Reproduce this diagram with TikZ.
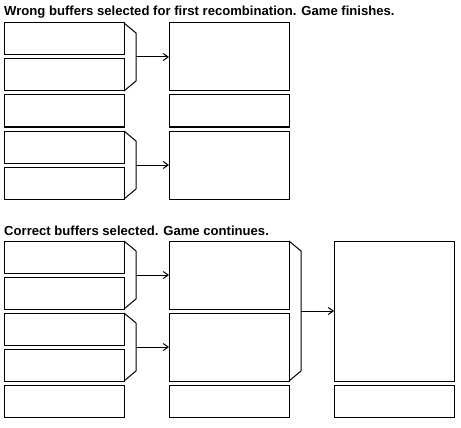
\documentclass[tikz,border=0pt]{standalone}
\usepackage{fontspec}
\setmainfont{Liberation Sans}
\usetikzlibrary{arrows.meta,calc}
\begin{document}
\begin{tikzpicture}[x=1pt,y=-1pt,
  buf/.style={draw=black,line width=1pt,minimum width=120pt,minimum height=32pt,anchor=north west,inner sep=0pt,outer sep=0pt},
  bigbuf/.style={buf,minimum height=68pt},
  tallbuf/.style={buf,minimum height=140pt},
  brk/.style={draw=black,line width=1pt},
  arr/.style={draw=black,line width=1pt,-{Straight Barb[length=5pt,width=7pt]}},
  title/.style={anchor=base west,inner sep=0pt,font=\bfseries\fontsize{13.1}{15}\selectfont}]
\useasboundingbox (0,0) rectangle (461,428);
\node[title] (t1) at (4,15.5) {Wrong buffers selected for first recombination. Game finishes.};
\node[title] (t2) at (4,235.5) {Correct buffers selected. Game continues.};
% top section
\node[buf] (a1) at (4,23) {};
\node[buf] (a2) at (4,59) {};
\node[buf] (a3) at (4,95) {};
\node[buf] (a4) at (4,131) {};
\node[buf] (a5) at (4,167) {};
\node[bigbuf] (r1) at (169,23) {};
\node[buf] (r2) at (169,95) {};
\node[bigbuf] (r3) at (169,131) {};
\draw[brk] (a1.north east) -- ++(12,10) coordinate (k1a) -- ($(a2.south east)+(12,-10)$) coordinate (k1b) -- (a2.south east);
\coordinate (m1) at ($(k1a)!0.5!(k1b)$);
\draw[arr] (m1) -- (r1.west);
\draw[brk] (a4.north east) -- ++(12,10) coordinate (k2a) -- ($(a5.south east)+(12,-10)$) coordinate (k2b) -- (a5.south east);
\coordinate (m2) at ($(k2a)!0.5!(k2b)$);
\draw[arr] (m2) -- (r3.west);
% bottom section
\node[buf] (b1) at (4,241) {};
\node[buf] (b2) at (4,277) {};
\node[buf] (b3) at (4,313) {};
\node[buf] (b4) at (4,349) {};
\node[buf] (b5) at (4,385) {};
\node[bigbuf] (c1) at (169,241) {};
\node[bigbuf] (c2) at (169,313) {};
\node[buf] (c3) at (169,385) {};
\node[tallbuf] (d1) at (334,241) {};
\node[buf] (d2) at (334,385) {};
\draw[brk] (b1.north east) -- ++(12,10) coordinate (k3a) -- ($(b2.south east)+(12,-10)$) coordinate (k3b) -- (b2.south east);
\coordinate (m3) at ($(k3a)!0.5!(k3b)$);
\draw[arr] (m3) -- (c1.west);
\draw[brk] (b3.north east) -- ++(12,10) coordinate (k4a) -- ($(b4.south east)+(12,-10)$) coordinate (k4b) -- (b4.south east);
\coordinate (m4) at ($(k4a)!0.5!(k4b)$);
\draw[arr] (m4) -- (c2.west);
\draw[brk] (c1.north east) -- ++(12,10) coordinate (k5a) -- ($(c2.south east)+(12,-10)$) coordinate (k5b) -- (c2.south east);
\coordinate (m5) at ($(k5a)!0.5!(k5b)$);
\draw[arr] (m5) -- (d1.west);
\end{tikzpicture}
\end{document}
